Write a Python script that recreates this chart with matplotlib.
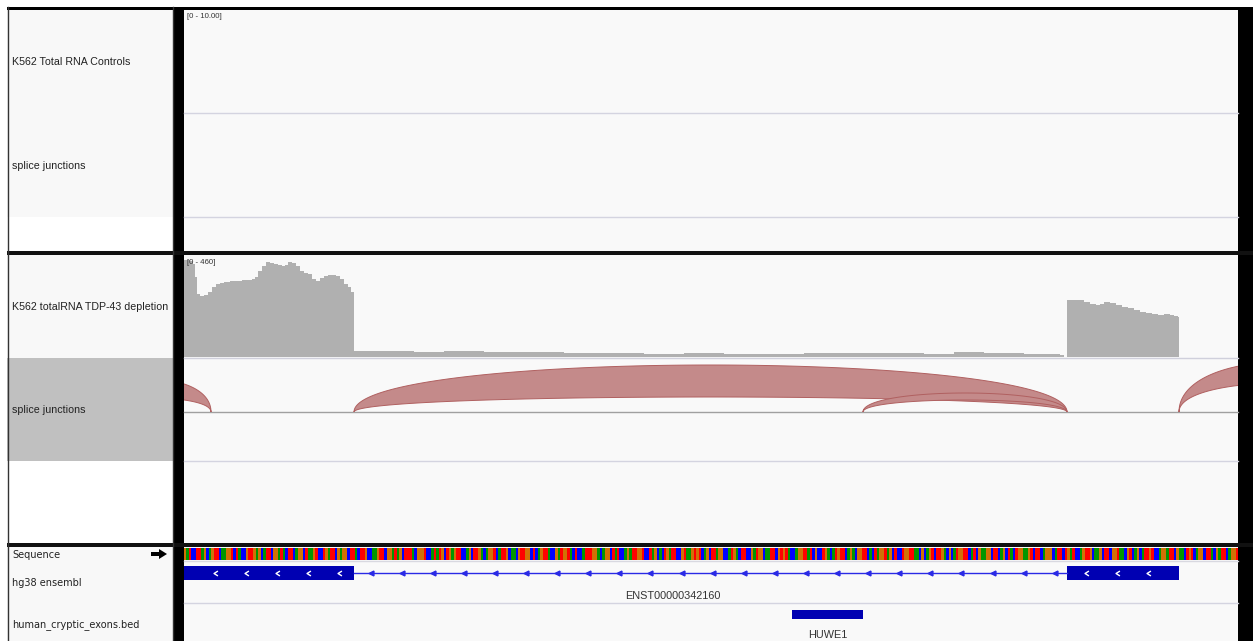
import numpy as np
import matplotlib
matplotlib.use('Agg')
import matplotlib.pyplot as plt
from matplotlib.patches import Rectangle, Polygon
from matplotlib.path import Path

# ---- data (positions are bases from the left edge of the view) ----
view_len = 1054

# coverage of the TDP-43 depletion track, range 0 - 460
cov_pos = [0, 3, 6, 9, 11, 13, 16, 20, 24, 28, 32, 36, 40, 46, 52, 58, 64, 68, 71, 74,
           78, 82, 86, 90, 94, 98, 101, 104, 108, 112, 116, 120, 124, 128, 132, 136,
           140, 144, 148, 152, 156, 160, 164, 167, 170,
           180, 200, 230, 260, 300, 340, 380, 420, 460, 500, 540, 580, 620, 660,
           700, 740, 770, 800, 840, 870, 876, 880,
           883, 890, 896, 900, 906, 912, 916, 920, 926, 932, 938, 944, 950, 956,
           962, 968, 974, 980, 986, 990, 994, 995]
cov_val = [460, 460, 455, 440, 380, 300, 290, 296, 310, 330, 345, 352, 358, 362, 360,
           366, 364, 372, 380, 410, 430, 450, 446, 440, 436, 432, 438, 450, 444, 430,
           410, 400, 395, 372, 360, 376, 386, 390, 388, 384, 372, 346, 330, 310, 30,
           28, 30, 26, 27, 22, 24, 20, 18, 16, 18, 15, 16, 19, 17,
           20, 16, 24, 18, 16, 14, 8, 0,
           270, 272, 268, 262, 250, 246, 250, 262, 258, 246, 238, 232, 222, 215,
           210, 203, 200, 205, 198, 194, 190, 0]

# splice junctions: start, end, outer and inner height (px above baseline)
junc_start = [-90, 170, 679, 995]
junc_end = [27, 883, 883, 1200]
junc_outer = [32.7, 47, 19, 50]
junc_inner = [14, 15, 12, 29]

# transcript ENST00000342160 (minus strand)
exon_start = [0, 883]
exon_end = [170, 995]
tx_name = 'ENST00000342160'
tx_label_pos = 489

# human_cryptic_exons.bed
cryptic_start = [608]
cryptic_end = [679]
cryptic_name = ['HUWE1']

# reference sequence shown in the view
seq = ("GATCCTTAGCAGTTCAAGGTCTACCGTTGAGCATTCGGATACTTCAGGCTAAGTCCTGATTCGAGGCTTAC"
       "TTGCCAAGTTCGGATAGCTTTACGGGTCCATATGCTGAGTTCCAGCTTGACAGGTCATTGCAACGTTGGCT"
       "CAGTTACCGATGGTACTCCATTTGGACAGGCTATCCAGATTGGTCCTAGCACTGATTCCGTAAGTGTCAGC"
       "TTAGGCCATGACTTCCGATGGCAATTCGTGTACCAGGTTATCGCCTGACATGTTCAGACGGTTCACTAGGT"
       "AGCTCCTGGTTAACGCAGTCTTGACGCATGGTTCATCGAAGGCTTCAGCTACTGGAAGTCTTCAGGGCATT"
       "CTGATCCAGTTGCAAGCTTCGGTAACGTCAGCATTGTCCAGGATTCGAACTGTCAGGCTTACGATTCAGGT")

track_names = [('K562 Total RNA Controls', 62), ('splice junctions', 166),
               ('K562 totalRNA TDP-43 depletion', 307), ('splice junctions', 410)]
bottom_names = [('Sequence', 555), ('hg38 ensembl', 583), ('human_cryptic_exons.bed', 625)]

W, H = 1253, 641
X0, X1 = 184, 1238  # data panel in pixels
base_colors = {'A': '#009600', 'C': '#0000ff', 'G': '#d17105', 'T': '#ff0000'}
FONT = 'Liberation Sans'


def px_axes(fig, x0, y0, x1, y1):
    ax = fig.add_axes([x0 / W, 1 - y1 / H, (x1 - x0) / W, (y1 - y0) / H])
    ax.set_facecolor('none')
    ax.axis('off')
    return ax


def bezier(s, e, h):
    t = np.linspace(0, 1, 200)
    x = s * (1 - t) ** 3 + 3 * s * (1 - t) ** 2 * t + 3 * e * (1 - t) * t ** 2 + e * t ** 3
    y = 3 * h * t * (1 - t)
    return x, y


def main():
    fig = plt.figure(figsize=(W / 100, H / 100), dpi=100, facecolor='white')

    # background / frames in pixel coordinates
    bg = fig.add_axes([0, 0, 1, 1])
    bg.set_xlim(0, W)
    bg.set_ylim(H, 0)
    bg.axis('off')

    def rect(x0, y0, x1, y1, c, **kw):
        bg.add_patch(Rectangle((x0, y0), x1 - x0, y1 - y0, facecolor=c, edgecolor='none', **kw))

    # name panels
    rect(7, 10, 173, 217, '#f8f8f8')
    rect(7, 217, 173, 251, 'white')
    rect(7, 255, 173, 358, '#f8f8f8')
    rect(7, 358, 173, 461, '#c0c0c0')
    rect(7, 461, 173, 543, 'white')
    rect(7, 547, 173, H, '#f8f8f8')
    # data panels
    rect(X0, 10, X1, 251, '#f9f9f9')
    rect(X0, 255, X1, 543, '#f9f9f9')
    rect(X0, 547, X1, H, '#f9f9f9')
    # black frames
    rect(7, 7, W, 10, 'black')
    rect(173, 7, 184, H, 'black')
    rect(X1, 7, W, H, 'black')
    rect(7, 251, W, 255, '#111111')
    rect(7, 543, W, 547, '#111111')
    bg.plot([7.5, 7.5], [7, H], color='#333333', lw=1)
    bg.plot([172.5, 172.5], [7, H], color='#333333', lw=1)
    # track separator lines
    for y, c in [(113, '#d4d4e0'), (217, '#d4d4e0'), (358, '#d0d0dc'), (412, '#a0a0a0'),
                 (461, '#d4d4e0'), (561, '#d8d8e0'), (603, '#d4d4e0')]:
        bg.plot([X0, X1], [y, y], color=c, lw=1)

    # names
    for name, y in track_names:
        bg.text(12, y, name, fontsize=7.7, family=FONT, color='#222222', va='center')
    for name, y in bottom_names:
        bg.text(12, y, name, fontsize=7, family='DejaVu Sans', color='#222222', va='center')
    bg.add_patch(Polygon([(151, 552), (159, 552), (159, 549), (167, 554),
                          (159, 559), (159, 556), (151, 556)], facecolor='black'))

    # coverage track
    cov = px_axes(fig, X0, 260, X1, 357)
    cov.set_xlim(0, view_len)
    cov.set_ylim(0, 460)
    cov.fill_between(cov_pos, cov_val, step='post', color='#b0b0b0', lw=0)

    # data range labels on top of the tracks
    fig.text(187 / W, 1 - 16 / H, '[0 - 10.00]', fontsize=5.6, family=FONT,
             color='#333333', va='center', zorder=10)
    fig.text(187 / W, 1 - 262 / H, '[0 - 460]', fontsize=5.6, family=FONT,
             color='#333333', va='center', zorder=10)

    # splice junctions
    jx = px_axes(fig, X0, 358, X1, 412)
    jx.set_xlim(0, view_len)
    jx.set_ylim(0, 54)
    for s, e, ho, hi in zip(junc_start, junc_end, junc_outer, junc_inner):
        xo, yo = bezier(s, e, ho / 0.75)
        xi, yi = bezier(s, e, hi / 0.75)
        poly = np.column_stack([np.r_[xo, xi[::-1]], np.r_[yo, yi[::-1]]])
        jx.add_patch(Polygon(poly, facecolor='#c48a8a', edgecolor='#b06060', lw=0.7))

    # sequence
    sx = px_axes(fig, X0, 548, X1, 560)
    sx.set_xlim(0, view_len)
    sx.set_ylim(0, 1)
    bw = view_len / len(seq)
    sx.bar(np.arange(len(seq)) * bw, 1, width=bw, align='edge',
           color=[base_colors[b] for b in seq], lw=0)

    # gene track
    gx = px_axes(fig, X0, 561, X1, 641)
    gx.set_xlim(0, view_len)
    gx.set_ylim(80, 0)
    gx.plot([exon_end[0], exon_start[1]], [12, 12], color='#2a2ae6', lw=1)
    for s, e in zip(exon_start, exon_end):
        gx.add_patch(Rectangle((s, 5), e - s, 14, facecolor='#0000b2', edgecolor='none'))
    chev = Path([(1, 1), (-0.6, 0), (1, -1)], [Path.MOVETO, Path.LINETO, Path.LINETO])
    ticks = np.arange(31, exon_end[-1], 31.1)
    in_exon = np.array([any(s < t < e for s, e in zip(exon_start, exon_end)) for t in ticks])
    gx.plot(ticks[in_exon], np.full(in_exon.sum(), 12), ls='none', marker=chev,
            markersize=3.5, mfc='none', mec='white', mew=1)
    gx.plot(ticks[~in_exon], np.full((~in_exon).sum(), 12), ls='none', marker='<',
            markersize=3.5, color='#2a2ae6')
    gx.text(tx_label_pos, 35, tx_name, fontsize=7.8, family=FONT, color='#333333',
            ha='center', va='center')
    for s, e, n in zip(cryptic_start, cryptic_end, cryptic_name):
        gx.add_patch(Rectangle((s, 49), e - s, 9, facecolor='#0000b2', edgecolor='none'))
        gx.text((s + e) / 2, 74, n, fontsize=7.8, family=FONT, color='#333333',
                ha='center', va='center')

    fig.savefig('out.png', dpi=100, facecolor='white')


if __name__ == '__main__':
    main()
